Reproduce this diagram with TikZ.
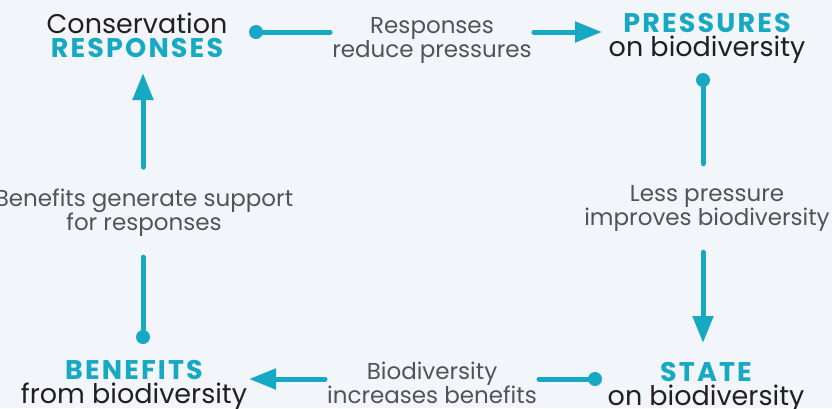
\documentclass[tikz,border=0pt]{standalone}
\usepackage{fontspec}
\setmainfont{Poppins}
\usetikzlibrary{arrows.meta}

\definecolor{cycleteal}{HTML}{17A9C3}
\definecolor{titleink}{HTML}{231F20}
\definecolor{labelink}{HTML}{535357}
\definecolor{paper}{HTML}{F2F6FA}

\newcommand{\hl}[1]{\textcolor{cycleteal}{\bfseries\addfontfeature{LetterSpace=8}#1}}

\begin{document}
\begin{tikzpicture}[x=1pt,y=-1pt,
  title/.style={align=center,anchor=base,inner sep=0pt,text=titleink,
    font=\fontsize{27}{24}\selectfont},
  step label/.style={align=center,anchor=base,text=labelink,
    font=\fontsize{23}{24}\selectfont},
  hlabel/.style={step label,inner xsep=2pt,inner ysep=0pt},
  vlabel/.style={step label,inner xsep=0pt,inner ysep=21pt},
  dot/.style={circle,fill=cycleteal,inner sep=0pt,minimum size=14pt},
  link/.style={cycleteal,line width=5pt,line cap=round},
  arrowlink/.style={link,-{Triangle[length=27pt,width=20pt]}}]

% Background and frame
\useasboundingbox (0,0) rectangle (832,408);
\fill[paper] (0,0) rectangle (832,408);
\clip (0,0) rectangle (832,408);

% Four stages of the cycle (anchored at the last line)
\node[title] (resp)  at (137,57)  {Conservation\\\hl{RESPONSES}};
\node[title] (press) at (707,56)  {\hl{PRESSURES}\\on biodiversity};
\node[title] (state) at (706,405) {\hl{STATE}\\on biodiversity};
\node[title] (benef) at (134,403) {\hl{BENEFITS}\\from biodiversity};

% Labels on the links
\node[hlabel] (lab1) at (432,57)  {Responses\\reduce pressures};
\node[vlabel] (lab2) at (707,225) {Less pressure\\improves biodiversity};
\node[hlabel] (lab3) at (432,403) {Biodiversity\\increases benefits};
\node[vlabel] (lab4) at (144,230) {Benefits generate support\\for responses};

% Start dots and arrow ends
\node[dot] (d1) at (256,32) {};
\node[dot] (d2) at (703,80) {};
\node[dot] (d3) at (595,379) {};
\node[dot] (d4) at (143,337) {};
\coordinate (t1) at (602,32);
\coordinate (t2) at (703,343);
\coordinate (t3) at (249,379);
\coordinate (t4) at (143,73);

% Links
\draw[link] (d1) -- (d1 -| lab1.west);
\draw[arrowlink] (d1 -| lab1.east) -- (t1);
\draw[link] (d2) -- (d2 |- lab2.north);
\draw[arrowlink] (d2 |- lab2.south) -- (t2);
\draw[link] (d3) -- (d3 -| lab3.east);
\draw[arrowlink] (d3 -| lab3.west) -- (t3);
\draw[link] (d4) -- (d4 |- lab4.south);
\draw[arrowlink] (d4 |- lab4.north) -- (t4);

\end{tikzpicture}
\end{document}
